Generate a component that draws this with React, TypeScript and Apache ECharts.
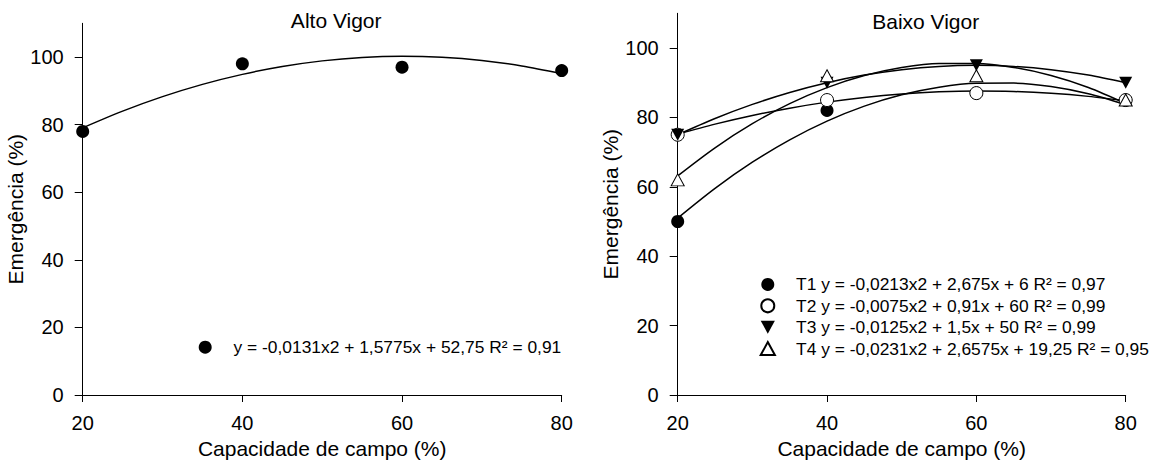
import React, { useEffect, useRef } from "react";
import * as echarts from "echarts";

const xValues = [20, 40, 60, 80];
const altoVigor = [78, 98, 97, 96];
const t1 = [50, 82, 87, 85];
const t2 = [75, 85, 87, 85];
const t3 = [75, 90, 95, 90];
const t4 = [62, 92, 92, 85];

const fitX = [20, 25, 30, 35, 40, 45, 50, 55, 60, 65, 70, 75, 80];
const altoFit = [79.06, 84.0, 88.29, 91.92, 94.89, 97.21, 98.88, 99.89, 100.24, 99.94, 98.99, 97.38, 95.11];
const t1Fit = [50.98, 59.56, 67.08, 73.53, 78.92, 83.24, 86.5, 88.69, 89.82, 89.88, 88.88, 86.81, 83.68];
const t2Fit = [75.2, 78.06, 80.55, 82.66, 84.4, 85.76, 86.75, 87.36, 87.6, 87.46, 86.95, 86.06, 84.8];
const t3Fit = [75.0, 79.69, 83.75, 87.19, 90.0, 92.19, 93.75, 94.69, 95.0, 94.69, 93.75, 92.19, 90.0];
const t4Fit = [63.16, 71.25, 78.19, 83.97, 88.59, 92.06, 94.38, 95.54, 95.54, 94.39, 92.09, 88.63, 84.01];

const yTicks = [0, 20, 40, 60, 80, 100];

const altoLabel = "y = -0,0131x2 + 1,5775x + 52,75 R² = 0,91";
const t1Label = "T1 y = -0,0213x2 + 2,675x + 6 R² = 0,97";
const t2Label = "T2 y = -0,0075x2 + 0,91x + 60 R² = 0,99";
const t3Label = "T3 y = -0,0125x2 + 1,5x + 50 R² = 0,99";
const t4Label = "T4 y = -0,0231x2 + 2,6575x + 19,25 R² = 0,95";

const titles = ["Alto Vigor", "Baixo Vigor"];
const xName = "Capacidade de campo (%)";
const yName = "Emergência (%)";

const FONT = "'Liberation Sans', Arial, Helvetica, sans-serif";

const pairs = (xs: number[], ys: number[]) => xs.map((x, i) => [x, ys[i]]);

export default function App() {
  const ref = useRef<HTMLDivElement>(null);
  useEffect(() => {
    if (!ref.current) return;
    const chart = echarts.init(ref.current, null, { renderer: "svg" });

    const xAxisBase = (gridIndex: number) => ({
      type: "value",
      gridIndex,
      min: 20,
      max: 80,
      interval: 20,
      name: xName,
      nameLocation: "middle",
      nameGap: 43,
      nameTextStyle: { fontFamily: FONT, fontSize: 21, color: "#000" },
      axisLine: { show: true, onZero: false, lineStyle: { color: "#000", width: 1 } },
      axisTick: { show: true, length: 7, lineStyle: { color: "#000" } },
      axisLabel: { margin: 18, fontFamily: FONT, fontSize: 20, color: "#000" },
      splitLine: { show: false },
    });
    const yAxisBase = (gridIndex: number, gap: number) => ({
      type: "value",
      gridIndex,
      min: 0,
      max: 110,
      name: yName,
      nameLocation: "middle",
      nameGap: gap,
      nameTextStyle: { fontFamily: FONT, fontSize: 21, color: "#000" },
      axisLine: { show: true, onZero: false, lineStyle: { color: "#000", width: 1 } },
      axisTick: { show: true, length: 8, customValues: yTicks, lineStyle: { color: "#000" } },
      axisLabel: { margin: 19, customValues: yTicks, fontFamily: FONT, fontSize: 20, color: "#000" },
      splitLine: { show: false },
    });

    const lineSeries = (name: string, idx: number, ys: number[]) => ({
      type: "line",
      name,
      xAxisIndex: idx,
      yAxisIndex: idx,
      data: pairs(fitX, ys),
      smooth: 0.3,
      showSymbol: false,
      symbol: "none",
      lineStyle: { color: "#000", width: 1.5 },
      z: 2,
      silent: true,
    });

    const scatter = (name: string, idx: number, ys: number[], symbol: string, size: any, open: boolean, z: number) => ({
      type: "scatter",
      name,
      xAxisIndex: idx,
      yAxisIndex: idx,
      data: pairs(xValues, ys),
      symbol,
      symbolSize: size,
      itemStyle: open
        ? { color: "#fff", borderColor: "#000", borderWidth: 1, opacity: 1 }
        : { color: "#000", opacity: 1 },
      z,
    });

    const legendText = { fontFamily: FONT, fontSize: 17.4, color: "#000", lineHeight: 21.4 };

    const option: any = {
      animation: false,
      backgroundColor: "#fff",
      textStyle: { fontFamily: FONT },
      grid: [
        { left: 82.7, top: 23.3, width: 479, height: 372.4 },
        { left: 677.7, top: 13.3, width: 448, height: 382.7 },
      ],
      xAxis: [xAxisBase(0), xAxisBase(1)],
      yAxis: [yAxisBase(0, 52), yAxisBase(1, 44)],
      legend: [
        {
          left: 193.7,
          top: 331.5,
          orient: "vertical",
          itemWidth: 46.6,
          itemHeight: 13,
          itemGap: 0,
          symbolKeepAspect: true,
          data: [altoLabel],
          textStyle: legendText,
          selectedMode: false,
        },
        {
          left: 754.7,
          top: 268.7,
          orient: "vertical",
          itemWidth: 46.6,
          itemHeight: 13,
          itemGap: 0,
          symbolKeepAspect: true,
          data: [t1Label, t2Label, t3Label, t4Label],
          textStyle: legendText,
          selectedMode: false,
        },
      ],
      graphic: [
        {
          type: "text",
          x: 336.2,
          y: 20,
          style: {
            text: titles[0],
            font: `21px ${FONT}`,
            fill: "#000",
            textAlign: "center",
            textVerticalAlign: "middle",
          },
        },
        {
          type: "text",
          x: 925.7,
          y: 21.7,
          style: {
            text: titles[1],
            font: `21px ${FONT}`,
            fill: "#000",
            textAlign: "center",
            textVerticalAlign: "middle",
          },
        },
      ],
      series: [
        lineSeries("fitAlto", 0, altoFit),
        scatter(altoLabel, 0, altoVigor, "circle", 13, false, 3),
        lineSeries("fitT1", 1, t1Fit),
        lineSeries("fitT2", 1, t2Fit),
        lineSeries("fitT3", 1, t3Fit),
        lineSeries("fitT4", 1, t4Fit),
        scatter(t1Label, 1, t1, "circle", 13, false, 3),
        scatter(t2Label, 1, t2, "circle", 13, true, 4),
        scatter(t3Label, 1, t3, "path://M0,0 L12,0 L6,11 Z", [13, 12], false, 5),
        scatter(t4Label, 1, t4, "path://M6,0 L12,11 L0,11 Z", [13, 12], true, 6),
      ],
    };
    chart.setOption(option);
    return () => chart.dispose();
  }, []);
  return (
    <div
      ref={ref}
      style={{ position: "fixed", left: 0, top: 0, width: 1158, height: 464, background: "#fff" }}
    />
  );
}
